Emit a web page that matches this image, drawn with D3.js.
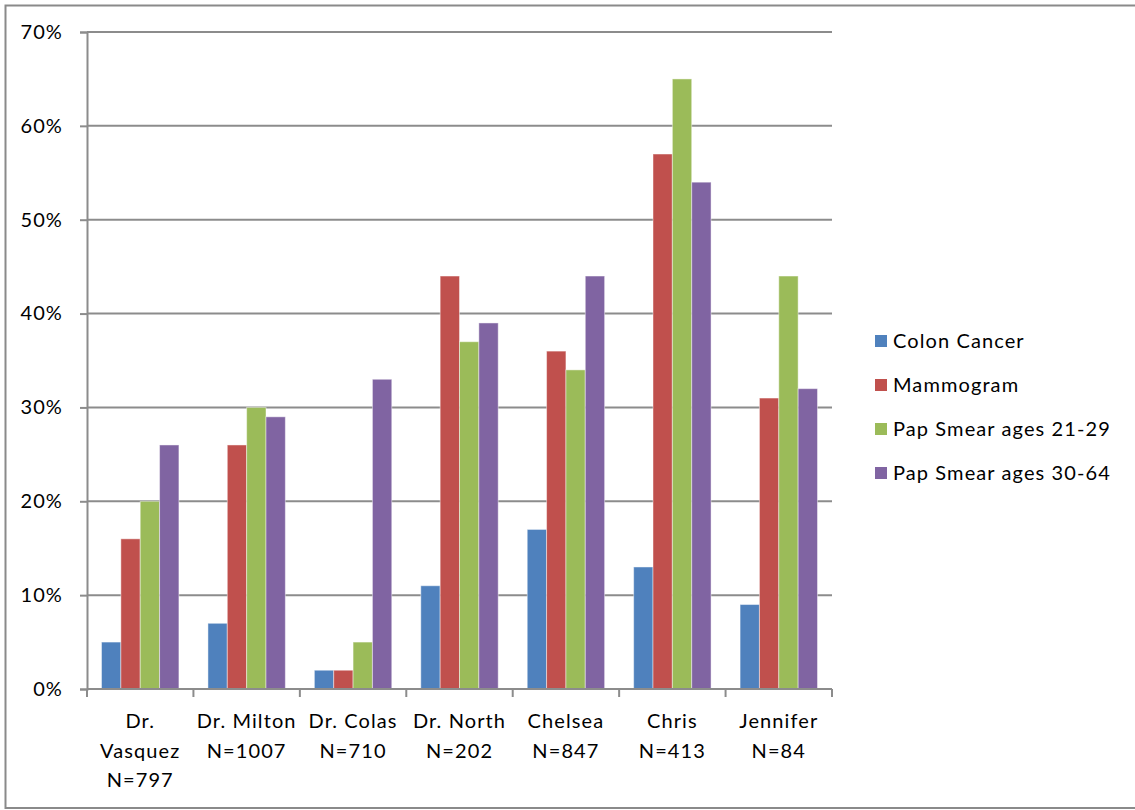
<!DOCTYPE html>
<html>
<head>
<meta charset="utf-8">
<script src="https://cdn.jsdelivr.net/npm/d3@7"></script>
<style>
  html, body { margin: 0; padding: 0; background: #fff; }
  svg text { font-family: Lato, "Open Sans", sans-serif; fill: #000; letter-spacing: 1.1px; }
</style>
</head>
<body>
<svg id="chart" width="1135" height="810"></svg>
<script>
// Screening rates by provider
const categories = [
  ["Dr.", "Vasquez", "N=797"],
  ["Dr. Milton", "N=1007"],
  ["Dr. Colas", "N=710"],
  ["Dr. North", "N=202"],
  ["Chelsea", "N=847"],
  ["Chris", "N=413"],
  ["Jennifer", "N=84"]
];
const seriesNames = ["Colon Cancer", "Mammogram", "Pap Smear ages 21-29", "Pap Smear ages 30-64"];
const colonCancer   = [5, 7, 2, 11, 17, 13, 9];
const mammogram     = [16, 26, 2, 44, 36, 57, 31];
const papSmear2129  = [20, 30, 5, 37, 34, 65, 44];
const papSmear3064  = [26, 29, 33, 39, 44, 54, 32];
const yTicks = [0, 10, 20, 30, 40, 50, 60, 70];
const colors = ["#4F81BD", "#C0504D", "#9BBB59", "#8064A2"];

const seriesValues = [colonCancer, mammogram, papSmear2129, papSmear3064];

const svg = d3.select("#chart");

// outer chart frame
svg.append("rect")
  .attr("x", 5.5).attr("y", 5.5)
  .attr("width", 1135).attr("height", 802.5)
  .attr("fill", "#fff").attr("stroke", "#8a8a8a").attr("stroke-width", 2);

const plot = { left: 87, right: 832, top: 32, bottom: 689 };

const x = d3.scaleBand()
  .domain(d3.range(categories.length))
  .range([plot.left, plot.right]);

const inner = d3.scaleBand()
  .domain(d3.range(seriesNames.length))
  .range([0, x.bandwidth()])
  .paddingOuter(0.75)
  .paddingInner(0);

const y = d3.scaleLinear()
  .domain([0, 70])
  .range([plot.bottom, plot.top]);

// horizontal gridlines
svg.append("g")
  .selectAll("line")
  .data(yTicks.filter(d => d > 0))
  .join("line")
  .attr("x1", plot.left).attr("x2", plot.right)
  .attr("y1", d => y(d)).attr("y2", d => y(d))
  .attr("stroke", "#8c8c8c").attr("stroke-width", 2);

// bars
const groups = svg.append("g")
  .selectAll("g")
  .data(categories.map((c, i) => i))
  .join("g")
  .attr("transform", i => `translate(${x(i)},0)`);

groups.selectAll("rect")
  .data(i => seriesValues.map((vals, s) => ({ s, v: vals[i] })))
  .join("rect")
  .attr("x", d => inner(d.s))
  .attr("width", inner.bandwidth())
  .attr("y", d => y(d.v))
  .attr("height", d => y(0) - y(d.v))
  .attr("fill", d => colors[d.s])
  .attr("stroke", "rgba(255,255,255,0.45)")
  .attr("stroke-width", 1);

// y axis
const yAxis = svg.append("g")
  .attr("transform", `translate(${plot.left},0)`)
  .call(d3.axisLeft(y).tickValues(yTicks).tickFormat(d => d + "%").tickSize(7).tickPadding(17));
yAxis.select(".domain").attr("stroke", "#8c8c8c").attr("stroke-width", 2);
yAxis.selectAll(".tick line").attr("stroke", "#8c8c8c").attr("stroke-width", 2);
yAxis.selectAll(".tick text")
  .style("font-family", "Lato, 'Open Sans', sans-serif")
  .style("font-size", "20px")
  .attr("fill", "#000");

// x axis baseline and category boundary ticks
const xAxisG = svg.append("g");
xAxisG.append("line")
  .attr("x1", plot.left).attr("x2", plot.right)
  .attr("y1", plot.bottom).attr("y2", plot.bottom)
  .attr("stroke", "#8c8c8c").attr("stroke-width", 2);
xAxisG.selectAll("line.tk")
  .data(d3.range(categories.length + 1))
  .join("line")
  .attr("class", "tk")
  .attr("x1", i => i < categories.length ? x(i) : x(i - 1) + x.bandwidth())
  .attr("x2", i => i < categories.length ? x(i) : x(i - 1) + x.bandwidth())
  .attr("y1", plot.bottom).attr("y2", plot.bottom + 8)
  .attr("stroke", "#8c8c8c").attr("stroke-width", 2);

// category labels
const labels = xAxisG.selectAll("text.cat")
  .data(categories.map((lines, i) => ({ lines, i })))
  .join("text")
  .attr("class", "cat")
  .attr("text-anchor", "middle")
  .style("font-size", "20px");
labels.selectAll("tspan")
  .data(d => d.lines.map((t, k) => ({ t, k, i: d.i })))
  .join("tspan")
  .attr("x", d => x(d.i) + x.bandwidth() / 2)
  .attr("y", d => 728 + d.k * 29.5)
  .text(d => d.t);

// legend
const legend = svg.append("g")
  .selectAll("g")
  .data(seriesNames.map((n, s) => ({ n, s })))
  .join("g")
  .attr("transform", d => `translate(875, ${341 + d.s * 44})`);
legend.append("rect")
  .attr("x", 0).attr("y", -6)
  .attr("width", 12).attr("height", 12)
  .attr("fill", d => colors[d.s]);
legend.append("text")
  .attr("x", 18).attr("y", 7)
  .style("font-size", "20px")
  .text(d => d.n);
</script>
</body>
</html>
